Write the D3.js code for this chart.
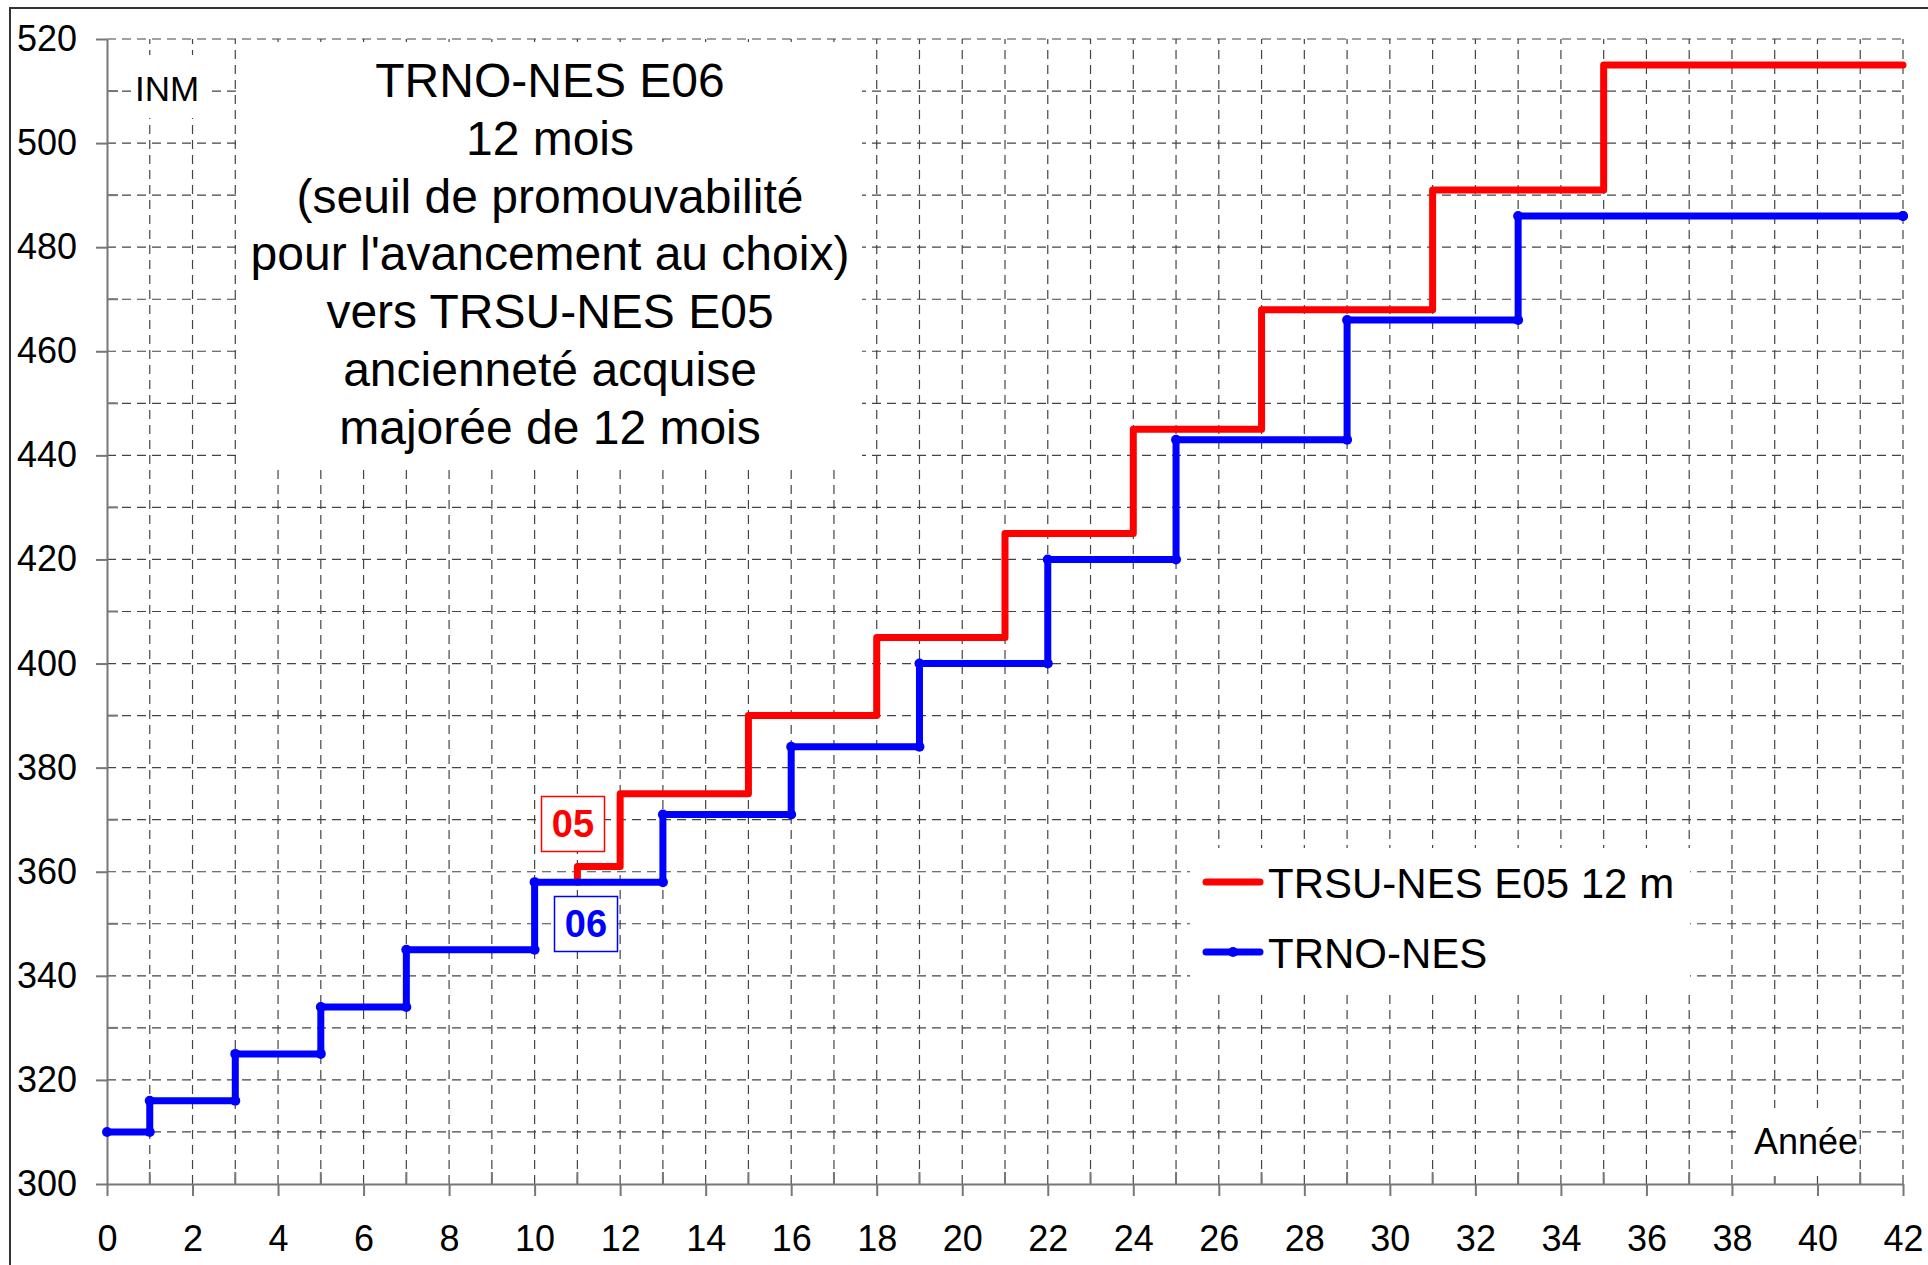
<!DOCTYPE html>
<meta charset="utf-8">
<head>
<title>TRNO-NES E06 vers TRSU-NES E05</title>
<style>
body { margin: 0; background: #fff; }
svg { display: block; font-family: "Liberation Sans", Arial, sans-serif; }
.grid line { stroke: #444; stroke-width: 1.2px; stroke-dasharray: 9,6; }
.axis path, .axis line { stroke: #777; stroke-width: 2px; }
.axis text { font-size: 36px; fill: #000; font-family: "Liberation Sans", Arial, sans-serif; }
.minor line { stroke: #777; stroke-width: 2px; }
.title text { font-size: 48px; text-anchor: middle; }
.legend text { font-size: 42px; }
</style>
</head>
<body>
<script src="https://cdn.jsdelivr.net/npm/d3@7"></script>
<script>

var width = 1928,
    height = 1265;

// step data (year where the step starts, INM reached)
var trnoYears = [0, 1, 3, 5, 7, 10, 13, 16, 19, 22, 25, 29, 33, 42];
var trnoINM   = [310, 316, 325, 334, 345, 358, 371, 384, 400, 420, 443, 466, 486, 486];

var trsuYears = [11, 11, 12, 15, 18, 21, 24, 27, 31, 35, 42];
var trsuINM   = [358, 361, 375, 390, 405, 425, 445, 468, 491, 515, 515];

var xTicks = d3.range(0, 43, 2);
var yTicks = d3.range(300, 521, 20);

var titleLines = [
  "TRNO-NES E06",
  "12 mois",
  "(seuil de promouvabilité",
  "pour l'avancement au choix)",
  "vers TRSU-NES E05",
  "ancienneté acquise",
  "majorée de 12 mois"
];

var legendNames = ["TRSU-NES E05 12 m", "TRNO-NES"];
var colors = ["#ff0000", "#0000ff"];

var x = d3.scaleLinear().domain([0, 42]).range([107, 1903]);
var y = d3.scaleLinear().domain([300, 520]).range([1184, 39]);

var svg = d3.select("body").append("svg")
    .attr("width", width)
    .attr("height", height);

// outer frame
svg.append("rect")
    .attr("x", 10).attr("y", 8)
    .attr("width", width + 20).attr("height", height + 20)
    .attr("fill", "#fff")
    .attr("stroke", "#333").attr("stroke-width", 2);

// grid
var grid = svg.append("g").attr("class", "grid");
grid.selectAll(".h")
    .data(d3.range(310, 521, 10))
  .enter().append("line")
    .attr("x1", x(0)).attr("x2", x(42))
    .attr("y1", function (d) { return y(d); })
    .attr("y2", function (d) { return y(d); });
grid.selectAll(".v")
    .data(d3.range(1, 43))
  .enter().append("line")
    .attr("y1", y(300)).attr("y2", y(520))
    .attr("x1", function (d) { return x(d); })
    .attr("x2", function (d) { return x(d); });

// axes
svg.append("g")
    .attr("class", "axis")
    .attr("transform", "translate(0," + y(300) + ")")
    .call(d3.axisBottom(x).tickValues(xTicks).tickSizeInner(12).tickSizeOuter(0).tickPadding(29));

svg.append("g")
    .attr("class", "axis")
    .attr("transform", "translate(" + x(0) + ",0)")
    .call(d3.axisLeft(y).tickValues(yTicks).tickSizeInner(11).tickSizeOuter(0).tickPadding(19));

// minor ticks (inside)
var minor = svg.append("g").attr("class", "minor");
minor.selectAll(".mx")
    .data(d3.range(1, 42, 2))
  .enter().append("line")
    .attr("x1", function (d) { return x(d); })
    .attr("x2", function (d) { return x(d); })
    .attr("y1", y(300)).attr("y2", y(300) - 12);
minor.selectAll(".my")
    .data(d3.range(310, 521, 20))
  .enter().append("line")
    .attr("y1", function (d) { return y(d); })
    .attr("y2", function (d) { return y(d); })
    .attr("x1", x(0)).attr("x2", x(0) + 11);

// series
var line = d3.line()
    .x(function (d) { return x(d[0]); })
    .y(function (d) { return y(d[1]); })
    .curve(d3.curveStepAfter);

var trsu = d3.zip(trsuYears, trsuINM);
var trno = d3.zip(trnoYears, trnoINM);

svg.append("path")
    .datum(trsu)
    .attr("d", line)
    .attr("fill", "none")
    .attr("stroke", colors[0])
    .attr("stroke-width", 7)
    .attr("stroke-linejoin", "round")
    .attr("stroke-linecap", "round");

svg.append("path")
    .datum(trno)
    .attr("d", line)
    .attr("fill", "none")
    .attr("stroke", colors[1])
    .attr("stroke-width", 7)
    .attr("stroke-linejoin", "round")
    .attr("stroke-linecap", "round");

// markers on every corner of the blue steps
var corners = [];
trno.forEach(function (d, i) {
  if (i > 0) corners.push([d[0], trno[i - 1][1]]);
  corners.push(d);
});
svg.selectAll(".dot")
    .data(corners)
  .enter().append("circle")
    .attr("cx", function (d) { return x(d[0]); })
    .attr("cy", function (d) { return y(d[1]); })
    .attr("r", 5)
    .attr("fill", colors[1]);

// grade labels
var tags = [
  {text: "05", color: colors[0], cx: 573, cy: 824, w: 63, h: 55},
  {text: "06", color: colors[1], cx: 586, cy: 924, w: 63, h: 55}
];
tags.forEach(function (t) {
  svg.append("rect")
      .attr("x", t.cx - t.w / 2).attr("y", t.cy - t.h / 2)
      .attr("width", t.w).attr("height", t.h)
      .attr("fill", "#fff")
      .attr("stroke", t.color).attr("stroke-width", 1.5);
  svg.append("text")
      .attr("x", t.cx).attr("y", t.cy + 13)
      .attr("text-anchor", "middle")
      .attr("font-size", 38).attr("font-weight", "bold")
      .attr("fill", t.color)
      .text(t.text);
});

// INM label
svg.append("rect").attr("x", 132).attr("y", 55).attr("width", 75).attr("height", 63).attr("fill", "#fff");
svg.append("text").attr("x", 167).attr("y", 101).attr("text-anchor", "middle")
    .attr("font-size", 35).text("INM");

// Année label
svg.append("rect").attr("x", 1740).attr("y", 1108).attr("width", 118).attr("height", 68).attr("fill", "#fff");
svg.append("text").attr("x", 1806).attr("y", 1154).attr("text-anchor", "middle")
    .attr("font-size", 36).text("Année");

// title block
var title = svg.append("g").attr("class", "title");
title.append("rect")
    .attr("x", 240).attr("y", 42).attr("width", 622).attr("height", 428)
    .attr("fill", "#fff");
title.selectAll("text")
    .data(titleLines)
  .enter().append("text")
    .attr("x", 550)
    .attr("y", function (d, i) { return 97 + i * 57.8; })
    .text(function (d) { return d; });

// legend
var legend = svg.append("g").attr("class", "legend");
legend.append("rect")
    .attr("x", 1190).attr("y", 848).attr("width", 500).attr("height", 142)
    .attr("fill", "#fff");
var items = legend.selectAll(".item")
    .data(legendNames)
  .enter().append("g")
    .attr("transform", function (d, i) { return "translate(1206," + (882 + i * 70) + ")"; });
items.append("line")
    .attr("x1", 0).attr("x2", 54)
    .attr("stroke", function (d, i) { return colors[i]; })
    .attr("stroke-width", 7)
    .attr("stroke-linecap", "round");
items.filter(function (d, i) { return i === 1; })
    .append("circle").attr("cx", 27).attr("r", 5).attr("fill", colors[1]);
items.append("text")
    .attr("x", 62).attr("y", 16)
    .text(function (d) { return d; });

</script>
</body>
